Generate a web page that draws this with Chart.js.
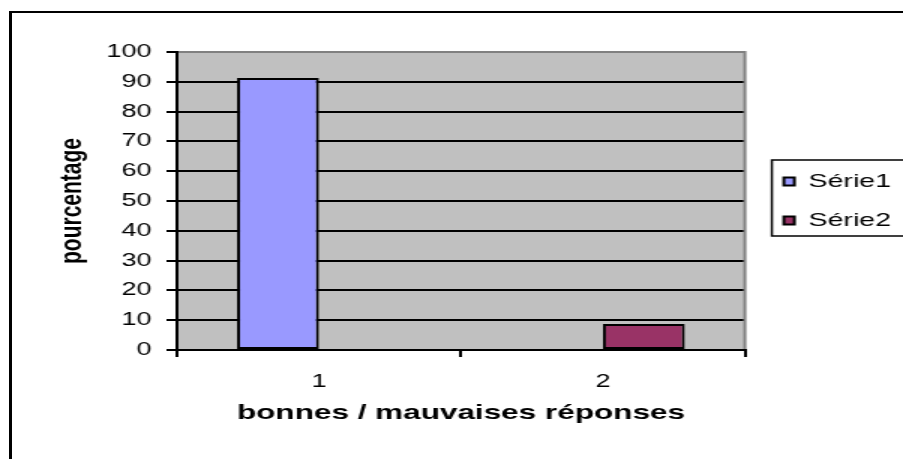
<!DOCTYPE html>
<html>
<head>
<meta charset="utf-8">
<script src="https://cdn.jsdelivr.net/npm/chart.js@4"></script>
<style>
  html, body { margin: 0; padding: 0; background: #fff; }
  #wrap { position: relative; width: 903px; height: 459px; overflow: hidden; }
  #frame { position: absolute; left: 9px; top: 11px; width: 1000px; height: 1000px;
           border-left: 3px solid #000; border-top: 2px solid #000; }
  #barChart { position: absolute; left: 0; top: 0; }
</style>
</head>
<body>
<div id="wrap">
  <div id="frame"></div>
  <!-- drawn at 602 wide and stretched to 903, like the original picture -->
  <canvas id="barChart" width="602" height="459" style="width:903px;height:459px"></canvas>
</div>
<script>
var categories = ["1", "2"];
var serie1 = [91.3, null];
var serie2 = [null, 8.7];
var yTicks = [0, 10, 20, 30, 40, 50, 60, 70, 80, 90, 100];

Chart.defaults.font.family = "'Liberation Sans', Arial, sans-serif";
Chart.defaults.color = '#000';

// gray plot background, gray top/right edge, frame round the legend
var plotArea = {
    id: 'plotArea',
    afterLayout: function (chart) {
        var lg = chart.legend;
        // keep the legend beside the plot only, not beside the x axis
        var d = lg.bottom - chart.chartArea.bottom;
        lg.bottom -= d;
        lg.height -= d;
        lg.legendHitBoxes.forEach(function (h) { h.top -= d / 2; });
        lg.left += 6;
        lg.right += 6;
    },
    beforeDraw: function (chart) {
        var a = chart.chartArea, ctx = chart.ctx;
        ctx.save();
        ctx.fillStyle = '#c0c0c0';
        ctx.fillRect(a.left, a.top, a.right - a.left, a.bottom - a.top);
        ctx.restore();
    },
    afterDraw: function (chart) {
        var a = chart.chartArea, ctx = chart.ctx;
        ctx.save();
        ctx.strokeStyle = '#808080';
        ctx.lineWidth = 2;
        ctx.beginPath();
        ctx.moveTo(a.left + 1, a.top);
        ctx.lineTo(a.right, a.top);
        ctx.lineTo(a.right, a.bottom - 1);
        ctx.stroke();

        var lg = chart.legend, hb = lg.legendHitBoxes;
        var top = hb[0].top - 12, bottom = hb[hb.length - 1].top + 25;
        ctx.strokeStyle = '#000';
        ctx.lineWidth = 1.5;
        ctx.strokeRect(lg.left + 20 - 8, top, 200, bottom - top);
        ctx.restore();
    }
};

var ctx = document.getElementById("barChart").getContext("2d");
new Chart(ctx, {
    type: 'bar',
    data: {
        labels: categories,
        datasets: [
            {
                label: "Série1",
                data: serie1,
                backgroundColor: "#9999ff",
                borderColor: "#000",
                borderWidth: 2,
                borderSkipped: false
            },
            {
                label: "Série2",
                data: serie2,
                backgroundColor: "#993366",
                borderColor: "#000",
                borderWidth: 2,
                borderSkipped: false
            }
        ]
    },
    options: {
        responsive: false,
        maintainAspectRatio: false,
        devicePixelRatio: 1,
        animation: false,
        layout: { padding: { top: 52, left: 0, right: 4, bottom: 0 } },
        datasets: { bar: { categoryPercentage: 0.577, barPercentage: 1 } },
        plugins: {
            tooltip: { enabled: false },
            legend: {
                position: 'right',
                labels: {
                    boxWidth: 7,
                    boxHeight: 8,
                    padding: 20,
                    font: { size: 19 }
                }
            }
        },
        scales: {
            x: {
                offset: true,
                grid: { offset: true, drawOnChartArea: false, color: '#000', lineWidth: 2, tickLength: 7 },
                border: { color: '#000', width: 2 },
                ticks: { padding: 14, maxRotation: 0, font: { size: 18 } },
                title: {
                    display: true,
                    text: 'bonnes / mauvaises réponses',
                    font: { size: 21, weight: 'bold' },
                    padding: { top: 5, bottom: 33 }
                },
                afterFit: function (axis) { axis.height = 109; }
            },
            y: {
                min: 0,
                max: 100,
                grid: { color: '#000', lineWidth: 2, tickLength: 7 },
                border: { color: '#000', width: 2 },
                ticks: { padding: 10, font: { size: 18 } },
                afterBuildTicks: function (axis) {
                    axis.ticks = yTicks.map(function (v) { return { value: v }; });
                },
                title: {
                    display: true,
                    text: 'pourcentage',
                    font: { size: 21, weight: 'bold' },
                    padding: { top: 36, bottom: 0 }
                },
                afterFit: function (axis) { axis.width = 118; }
            }
        }
    },
    plugins: [plotArea]
});
</script>
</body>
</html>
